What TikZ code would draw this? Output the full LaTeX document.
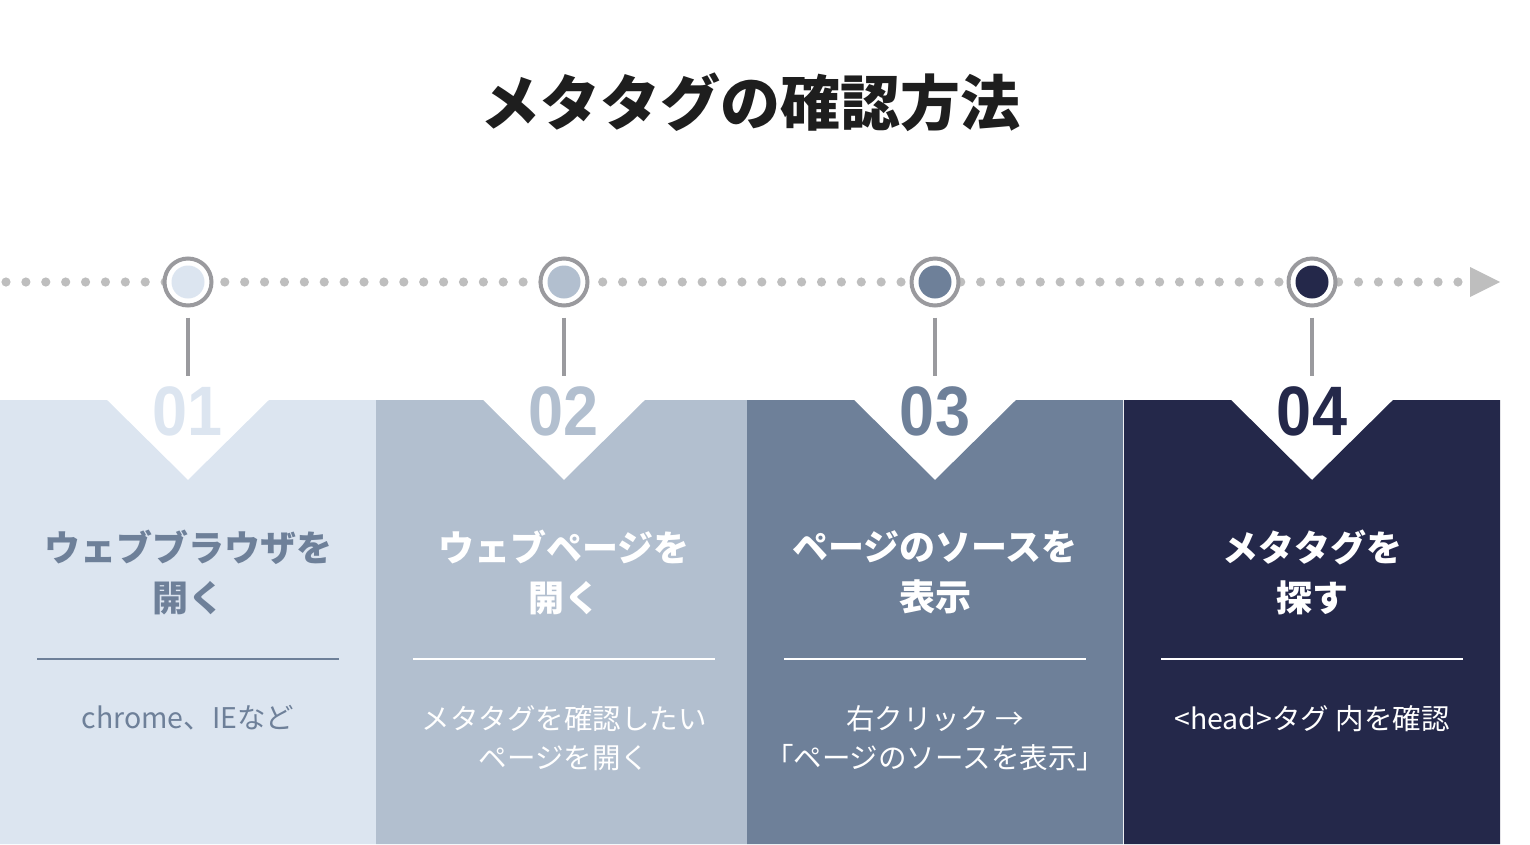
\documentclass[tikz,border=0pt]{standalone}
\usepackage{fontspec}
\setmainfont{Noto Sans CJK JP}
\newfontfamily\numfont{Liberation Sans}
\usetikzlibrary{positioning}
\definecolor{stepa}{HTML}{DCE5F0}
\definecolor{stepb}{HTML}{B2BFCF}
\definecolor{stepc}{HTML}{6E8099}
\definecolor{stepd}{HTML}{24284A}
\definecolor{ringc}{HTML}{9A9A9E}
\definecolor{dotc}{HTML}{BEBEBE}
\definecolor{titlec}{HTML}{1E1E1E}

\begin{document}
\begin{tikzpicture}[x=1pt, y=-1pt,
    ring/.style={draw=ringc, circle, line width=4pt, fill=white, minimum size=47pt, inner sep=0pt},
    stem/.style={ringc, line width=4pt},
    num/.style={font=\numfont\bfseries\fontsize{70}{70}\selectfont, inner sep=0pt},
    head/.style={font=\bfseries\fontsize{36}{50}\selectfont, align=center},
    body/.style={font=\fontsize{28.5}{39}\selectfont, align=center, anchor=north}]
  \useasboundingbox (0,0) rectangle (1530,844);

  \node [font=\bfseries\fontsize{60}{60}\selectfont, text=titlec] (title) at (750,102) {メタタグの確認方法};

  % timeline
  \foreach \i in {0,...,73}
    \fill [dotc] (6+19.89*\i,282) circle (4.6);
  \fill [dotc] (1470,267) -- (1500,282) -- (1470,297) -- cycle;

  % panels
  \foreach \l/\c/\r/\col in {0/188/376/stepa, 376/564/747/stepb, 747/935/1123/stepc, 1124/1312/1500/stepd}
    \fill [\col] (\l,400) -- (\c-81,400) -- (\c,480) -- (\c+81,400) -- (\r,400) -- (\r,844) -- (\l,844) -- cycle;

  % markers
  \foreach \n/\c/\col in {1/188/stepa, 2/564/stepb, 3/935/stepc, 4/1312/stepd} {
    \node [ring] (s\n) at (\c,282) {};
    \fill [\col] (s\n) circle (16.5);
    \coordinate (t\n) at (\c,376);
    \draw [stem] ([yshift=-10pt]s\n.south) -- (t\n);
    \node [num, text=\col] (n\n) at (\c,411) {\scalebox{0.9}[1]{0\n}};
  }

  % texts
  \node [head, text=stepc] (h1) at (188,572) {ウェブブラウザを\\開く};
  \node [head, text=white] (h2) at (564,572) {ウェブページを\\開く};
  \node [head, text=white] (h3) at (935,572) {ページのソースを\\表示};
  \node [head, text=white] (h4) at (1312,572) {メタタグを\\探す};

  \draw [stepc, line width=2pt] (37,659) -- (339,659);
  \draw [white, line width=2pt] (413,659) -- (715,659);
  \draw [white, line width=2pt] (784,659) -- (1086,659);
  \draw [white, line width=2pt] (1161,659) -- (1463,659);

  \node [body, text=stepc] (b1) at (188,702) {chrome、IEなど};
  \node [body, text=white] (b2) at (564,702) {メタタグを確認したい\\ページを開く};
  \node [body, text=white] (b3) at (935,702) {右クリック →\\「ページのソースを表示」};
  \node [body, text=white] (b4) at (1312,702) {<head>タグ 内を確認};
\end{tikzpicture}
\end{document}
